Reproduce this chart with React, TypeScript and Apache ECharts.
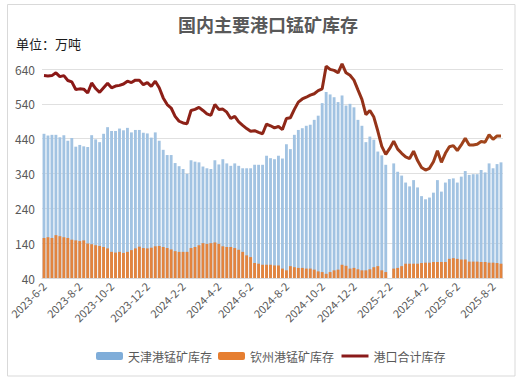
import React, { useEffect, useRef } from "react";
import * as echarts from "echarts";

const startDate = "2023-06-02";
const weekCount = 116;
const xTickLabels = [
  "2023-6-2", "2023-8-2", "2023-10-2", "2023-12-2", "2024-2-2", "2024-4-2", "2024-6-2",
  "2024-8-2", "2024-10-2", "2024-12-2", "2025-2-2", "2025-4-2", "2025-6-2", "2025-8-2",
];
const yTicks = [40, 140, 240, 340, 440, 540, 640];

const tianjin: (number | null)[] = [
  454, 449, 451, 451, 444, 450, 434, 442, 417, 422, 418, 416, 450, 438, 430, 454, 473, 462, 462, 469,
  464, 471, 458, 465, 465, 457, 455, 443, 458, 434, 408, 393, 393, 370, 361, 353, 339, 378, 374, 372,
  360, 355, 353, 378, 366, 381, 369, 362, 369, 362, 355, 355, 355, 365, 365, 365, 391, 384, 381, 391,
  383, 424, 410, 451, 465, 470, 477, 480, 494, 506, 542, 574, 567, 559, 545, 564, 535, 540, 530, 494,
  477, 430, 446, 437, 403, 392, 365, null, 369, 345, 334, 314, 303, 321, 300, 275, 266, 271, 285, 321,
  288, 314, 324, 326, 314, 331, 347, 336, 338, 338, 350, 343, 369, 355, 367, 372,
];

const qinzhou: (number | null)[] = [
  155, 157, 155, 163, 160, 157, 155, 150, 148, 146, 148, 139, 137, 134, 132, 129, 125, 115, 113, 115,
  112, 115, 120, 125, 130, 126, 125, 127, 131, 132, 129, 126, 122, 117, 115, 115, 115, 126, 129, 134,
  140, 138, 140, 142, 138, 131, 129, 129, 126, 121, 115, 105, 100, 83, 81, 78, 78, 78, 76, 76,
  67, 62, 74, 71, 69, 69, 67, 67, 64, 59, 57, 52, 57, 62, 64, 78, 75, 67, 69, 65,
  62, 62, 65, 71, 74, 62, 57, null, 67, 69, 74, 81, 81, 81, 81, 83, 84, 84, 86, 86,
  86, 86, 95, 97, 95, 93, 93, 87, 87, 87, 86, 86, 84, 84, 83, 81,
];

const total: (number | null)[] = [
  621, 620, 621, 629, 618, 621, 607, 603, 581, 583, 582, 571, 600, 584, 573, 586, 599, 586, 591, 593,
  597, 605, 601, 608, 608, 595, 601, 590, 605, 586, 557, 538, 528, 504, 490, 485, 483, 521, 524, 530,
  521, 511, 507, 538, 524, 525, 516, 498, 504, 488, 478, 469, 461, 463, 458, 454, 482, 477, 471, 475,
  466, 498, 500, 524, 545, 554, 559, 565, 569, 578, 583, 648, 639, 636, 629, 655, 629, 622, 608, 580,
  553, 509, 521, 502, 462, 418, 395, 412, 433, 410, 398, 388, 383, 404, 377, 357, 350, 355, 374, 405,
  372, 398, 417, 420, 406, 422, 441, 422, 422, 424, 432, 430, 451, 438, 448, 448,
];

const DAY = 86400000;

function parseDate(s: string): number {
  const [y, m, d] = s.split("-").map(Number);
  return Date.UTC(y, m - 1, d);
}

function buildWeeks(): string[] {
  const t0 = parseDate(startDate);
  const out: string[] = [];
  for (let i = 0; i < weekCount; i++) {
    const dt = new Date(t0 + i * 7 * DAY);
    out.push(`${dt.getUTCFullYear()}-${dt.getUTCMonth() + 1}-${dt.getUTCDate()}`);
  }
  return out;
}

export default function App() {
  const ref = useRef<HTMLDivElement>(null);

  useEffect(() => {
    if (!ref.current) return;
    const chart = echarts.init(ref.current, undefined, { renderer: "svg" });
    const categories = buildWeeks();
    const t0 = parseDate(startDate);
    const labelMap = new Map<number, string>();
    xTickLabels.forEach((lab) => {
      const idx = Math.round((parseDate(lab) - t0) / (7 * DAY));
      if (idx >= 0 && idx < weekCount) labelMap.set(idx, lab);
    });

    const font = "'Noto Sans CJK SC', 'Noto Sans', sans-serif";
    const lineGradient = new echarts.graphic.LinearGradient(0, 0, 1, 0, [
      { offset: 0, color: "#8a1616" },
      { offset: 0.6, color: "#8f2a18" },
      { offset: 1, color: "#a3481c" },
    ]);

    chart.setOption({
      animation: false,
      textStyle: { fontFamily: font },
      title: [
        {
          text: "国内主要港口锰矿库存",
          left: 178,
          top: 15,
          padding: 0,
          textStyle: { fontSize: 18, fontWeight: "bold", color: "#595959", fontFamily: font },
        },
        {
          text: "单位：万吨",
          left: 16,
          top: 37,
          padding: 0,
          textStyle: { fontSize: 13, fontWeight: "normal", color: "#1a1a1a", fontFamily: font },
        },
      ],
      graphic: [
        {
          type: "rect",
          silent: true,
          z: -10,
          shape: { x: 7.5, y: 4.5, width: 507.5, height: 371.5 },
          style: { fill: "none", stroke: "#d9d9d9", lineWidth: 1 },
        },
      ],
      legend: {
        left: 91,
        top: 345,
        itemWidth: 27,
        itemHeight: 8,
        itemGap: 6,
        textStyle: { fontSize: 12, color: "#595959", fontFamily: font },
        data: [
          { name: "天津港锰矿库存", itemStyle: { color: "#7fadd9" } },
          { name: "钦州港锰矿库存", itemStyle: { color: "#e67e30" } },
          {
            name: "港口合计库存",
            lineStyle: { color: "#8a1a1a", width: 3 },
            itemStyle: { opacity: 0 },
          },
        ],
      },
      grid: { left: 42, right: 25, top: 69, bottom: 106, containLabel: false },
      xAxis: {
        type: "category",
        data: categories,
        boundaryGap: true,
        axisTick: { show: false },
        axisLine: { show: true, lineStyle: { color: "#d9d9d9" } },
        axisLabel: {
          interval: (idx: number) => labelMap.has(idx),
          formatter: (_v: string, idx: number) => labelMap.get(idx) ?? "",
          rotate: 45,
          fontSize: 11,
          color: "#595959",
          margin: 6,
        },
      },
      yAxis: {
        type: "value",
        min: 40,
        max: 640,
        axisLine: { show: false },
        axisTick: { show: false, customValues: yTicks },
        axisLabel: { customValues: yTicks, fontSize: 12, color: "#595959", margin: 7 },
        splitLine: { show: true, lineStyle: { color: "#e0e0e0", width: 1 } },
      },
      series: [
        {
          name: "天津港锰矿库存",
          type: "bar",
          data: tianjin,
          barWidth: "72%",
          barGap: "-100%",
          itemStyle: { color: "#a2c3e2" },
        },
        {
          name: "钦州港锰矿库存",
          type: "bar",
          data: qinzhou,
          barWidth: "72%",
          barGap: "-100%",
          itemStyle: { color: "#e3843e" },
        },
        {
          name: "港口合计库存",
          type: "line",
          data: total,
          symbol: "none",
          clip: false,
          connectNulls: true,
          lineStyle: { width: 3, color: lineGradient },
          itemStyle: { color: "#8a1a1a" },
          z: 5,
        },
      ],
    });

    return () => chart.dispose();
  }, []);

  return (
    <div
      ref={ref}
      style={{ position: "absolute", left: 0, top: 0, width: 528, height: 384, background: "#fff" }}
    />
  );
}
